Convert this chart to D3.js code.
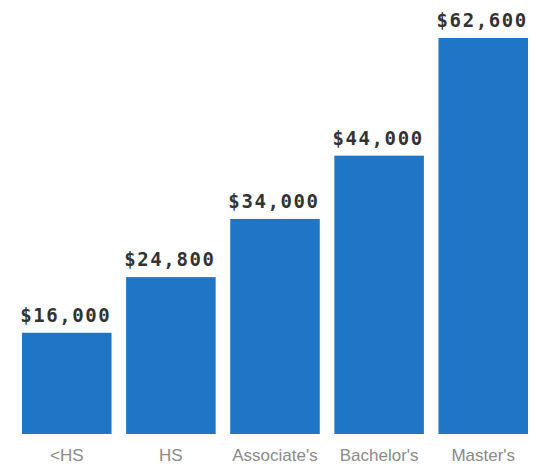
<!DOCTYPE html>
<html>
<head>
<meta charset="utf-8">
<script src="https://cdn.jsdelivr.net/npm/d3@7"></script>
<style>
  html, body { margin: 0; padding: 0; background: #fff; }
  svg { display: block; }
</style>
</head>
<body>
<svg id="chart" width="536" height="469"></svg>
<script>
// Median earnings by education level
const categories = ["<HS", "HS", "Associate's", "Bachelor's", "Master's"];
const earnings = [16000, 24800, 34000, 44000, 62600];
const valueLabels = ["$16,000", "$24,800", "$34,000", "$44,000", "$62,600"];

const svg = d3.select("#chart");
const baseline = 434;

const x = d3.scaleBand()
  .domain(categories)
  .range([22, 528])
  .paddingInner(0.14)
  .paddingOuter(0);

const y = d3.scaleLinear()
  .domain([0, 62600])
  .range([baseline, 38]);

const data = categories.map((c, i) => ({ cat: c, value: earnings[i], label: valueLabels[i] }));

// bars
svg.append("g")
  .selectAll("rect")
  .data(data)
  .join("rect")
  .attr("x", d => x(d.cat))
  .attr("y", d => y(d.value))
  .attr("width", x.bandwidth())
  .attr("height", d => baseline - y(d.value))
  .attr("fill", "#1f76c6");

// value labels above bars
svg.append("g")
  .selectAll("text")
  .data(data)
  .join("text")
  .attr("x", d => x(d.cat) + x.bandwidth() / 2 - 1)
  .attr("y", d => y(d.value) - 11)
  .attr("text-anchor", "middle")
  .attr("font-family", "'DejaVu Sans Mono', monospace")
  .attr("font-size", 19)
  .attr("font-weight", "bold")
  .attr("letter-spacing", 1.6)
  .attr("fill", "#333")
  .text(d => d.label);

// category axis
const xAxis = d3.axisBottom(x).tickSize(0).tickPadding(0);
const gx = svg.append("g")
  .attr("transform", `translate(0,${baseline + 15})`)
  .call(xAxis);
gx.select(".domain").remove();
gx.selectAll("text")
  .attr("dy", "0.71em")
  .attr("font-family", "'Liberation Sans', Arial, sans-serif")
  .attr("font-size", 17)
  .attr("fill", "#8a8a8a");
</script>
</body>
</html>
